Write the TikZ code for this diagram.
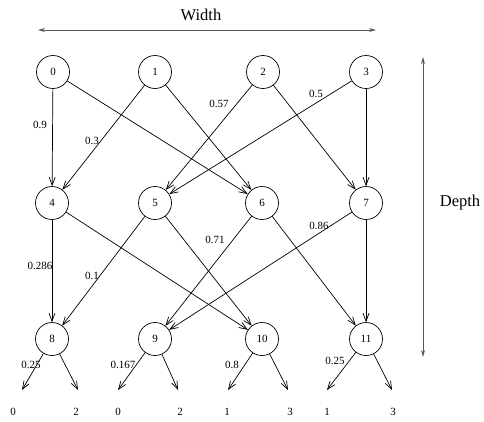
\documentclass[tikz,border=0pt]{standalone}
\usepackage{fontspec}
\setmainfont{Liberation Serif}
\usetikzlibrary{arrows.meta}
\begin{document}
\begin{tikzpicture}[x=1pt,y=-1pt,
  vtx/.style={circle,draw,line width=0.7pt,minimum size=33pt,inner sep=0pt,font=\fontsize{11}{11}\selectfont},
  conn/.style={line width=0.7pt,-{Straight Barb[length=8pt,width=6pt,line width=0.7pt]}},
  lbl/.style={inner sep=0pt,font=\fontsize{11}{11}\selectfont},
  dim/.style={line width=0.8pt,draw=black!65,{Stealth[length=7pt,width=4pt]}-{Stealth[length=7pt,width=4pt]}},
  big/.style={inner sep=0pt,font=\fontsize{16.5}{16.5}\selectfont}]
\useasboundingbox (0,0) rectangle (484,421);
% nodes
\node[vtx] (n0) at (53,72) {0};
\node[vtx] (n1) at (155,72) {1};
\node[vtx] (n2) at (263,72) {2};
\node[vtx] (n3) at (366,72) {3};
\node[vtx] (n4) at (52,203) {4};
\node[vtx] (n5) at (155,203) {5};
\node[vtx] (n6) at (262,203) {6};
\node[vtx] (n7) at (366,203) {7};
\node[vtx] (n8) at (52,339) {8};
\node[vtx] (n9) at (155,339) {9};
\node[vtx] (n10) at (262,339) {10};
\node[vtx] (n11) at (366,339) {11};
% edges
\draw[conn] (n0) -- (n4);
\draw[conn] (n0) -- (n6);
\draw[conn] (n1) -- (n4);
\draw[conn] (n1) -- (n6);
\draw[conn] (n2) -- (n5);
\draw[conn] (n2) -- (n7);
\draw[conn] (n3) -- (n5);
\draw[conn] (n3) -- (n7);
\draw[conn] (n4) -- (n8);
\draw[conn] (n4) -- (n10);
\draw[conn] (n5) -- (n8);
\draw[conn] (n5) -- (n10);
\draw[conn] (n6) -- (n9);
\draw[conn] (n6) -- (n11);
\draw[conn] (n7) -- (n9);
\draw[conn] (n7) -- (n11);
% leaf ends
\coordinate (a8) at (22,390); \coordinate (b8) at (78,390);
\coordinate (a9) at (118,390); \coordinate (b9) at (178,390);
\coordinate (a10) at (228,390); \coordinate (b10) at (288,390);
\coordinate (a11) at (327,390); \coordinate (b11) at (392,390);
\draw[conn] (n8) -- (a8); \draw[conn] (n8) -- (b8);
\draw[conn] (n9) -- (a9); \draw[conn] (n9) -- (b9);
\draw[conn] (n10) -- (a10); \draw[conn] (n10) -- (b10);
\draw[conn] (n11) -- (a11); \draw[conn] (n11) -- (b11);
% edge labels
\node[lbl] (l1) at (40,125) {0.9};
\node[lbl] (l2) at (92,141) {0.3};
\node[lbl] (l3) at (219,104) {0.57};
\node[lbl] (l4) at (316,94) {0.5};
\node[lbl] (l5) at (40,266) {0.286};
\node[lbl] (l6) at (92,276) {0.1};
\node[lbl] (l7) at (215,240) {0.71};
\node[lbl] (l8) at (319,226) {0.86};
\node[lbl] (l9) at (31,365) {0.25};
\node[lbl] (l10) at (123,365) {0.167};
\node[lbl] (l11) at (232,365) {0.8};
\node[lbl] (l12) at (335,361) {0.25};
% bottom labels
\node[lbl] (t1) at (13,412) {0};
\node[lbl] (t2) at (76,412) {2};
\node[lbl] (t3) at (118,412) {0};
\node[lbl] (t4) at (180,412) {2};
\node[lbl] (t5) at (227,412) {1};
\node[lbl] (t6) at (290,412) {3};
\node[lbl] (t7) at (327,412) {1};
\node[lbl] (t8) at (393,412) {3};
% dimension arrows
\coordinate (wl) at (38,30); \coordinate (wr) at (376,30);
\draw[dim] (wl) -- (wr);
\node[big] (wt) at (201,15) {Width};
\coordinate (dt) at (423,57); \coordinate (db) at (423,357);
\draw[dim] (dt) -- (db);
\node[big] (dp) at (460,203) {Depth};
\end{tikzpicture}
\end{document}
